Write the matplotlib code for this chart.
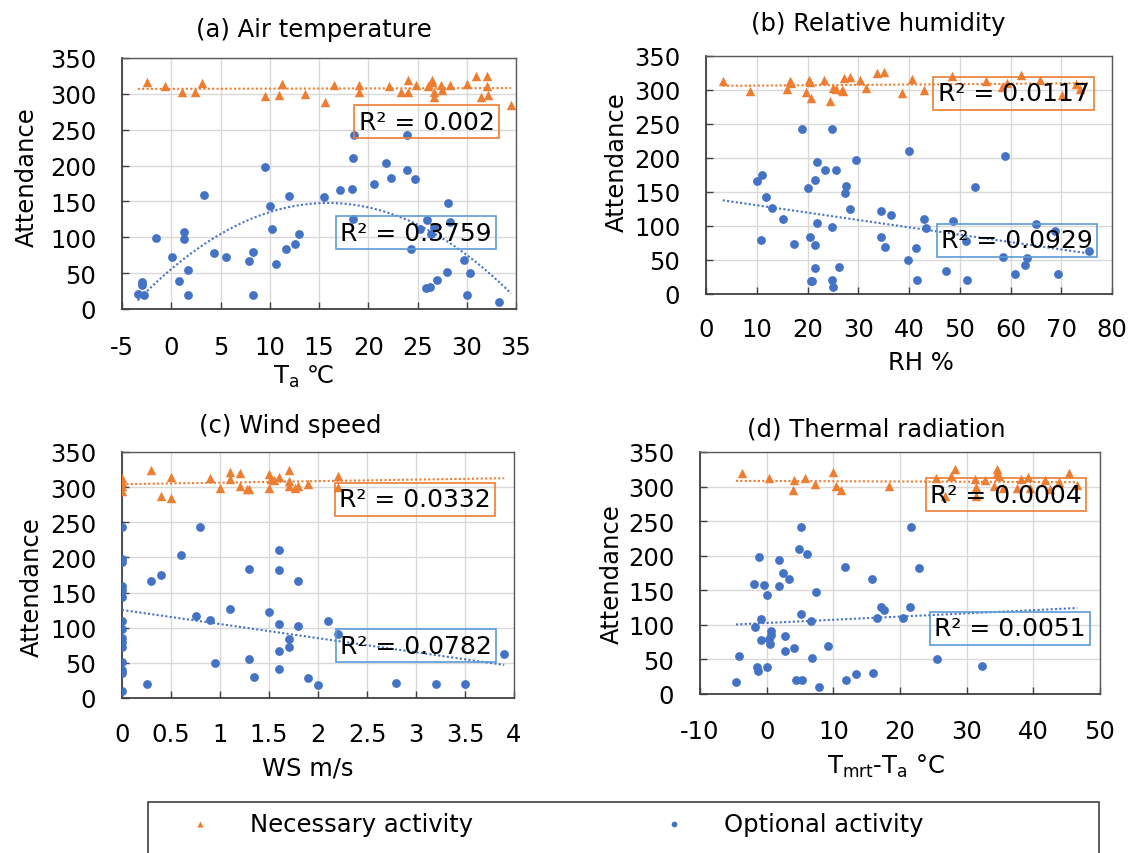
import numpy as np
import matplotlib
matplotlib.use("Agg")
import matplotlib.pyplot as plt
from matplotlib.patches import Rectangle
from matplotlib.ticker import FuncFormatter, MultipleLocator

plt.rcParams['font.family'] = ['DejaVu Sans']
plt.rcParams['font.size'] = 17.5
plt.rcParams['mathtext.default'] = 'regular'

BLUE = '#4472C4'
ORANGE = '#ED7D31'

# (a) air temperature
ta_opt_x = [-3.4, -3.0, -3.0, -2.8, -1.5, 0.1, 0.8, 1.3, 1.3, 1.7, 1.7, 3.3, 4.3, 5.6, 7.9, 8.3, 8.3,
            9.5, 10.0, 10.2, 10.6, 11.7, 12.0, 12.6, 13.0, 15.5, 17.1, 18.3, 18.5, 18.5, 18.6, 20.6,
            21.8, 22.3, 23.9, 23.9, 24.3, 24.7, 25.3, 25.9, 26.3, 26.0, 26.4, 26.7, 27.0, 28.0, 28.1,
            28.3, 29.7, 30.0, 30.3, 33.3]
ta_opt_y = [21, 38, 33, 19, 99, 72, 39, 108, 97, 55, 20, 159, 78, 73, 67, 79, 20,
            198, 143, 111, 63, 84, 157, 91, 105, 156, 166, 167, 126, 210, 243, 175,
            203, 183, 194, 243, 84, 181, 112, 29, 30, 124, 104, 115, 41, 52, 148,
            122, 69, 20, 50, 10]
ta_nec_x = [-2.5, -0.6, 1.1, 2.4, 3.1, 9.5, 10.9, 11.2, 13.6, 15.6, 16.5, 19.1, 19.1, 22.1, 23.3,
            24.0, 24.0, 24.8, 26.1, 26.5, 26.5, 26.7, 26.7, 27.4, 27.5, 28.3, 30.0, 30.9, 31.4,
            32.1, 32.1, 32.2, 34.5]
ta_nec_y = [317, 311, 303, 302, 315, 297, 299, 314, 300, 289, 312, 312, 302, 311, 302,
            302, 320, 313, 311, 320, 316, 302, 295, 313, 306, 313, 314, 325, 296,
            325, 311, 299, 285]

# (b) relative humidity
rh_opt_x = [10.0, 11.0, 10.8, 11.9, 13.0, 15.2, 17.3, 18.9, 20.1, 20.4, 20.7, 20.9, 21.4, 21.4, 21.4,
            21.9, 21.9, 23.4, 24.8, 24.9, 24.9, 25.1, 25.6, 26.2, 27.3, 27.6, 28.4, 29.6, 34.4,
            34.4, 35.3, 36.5, 40.0, 39.9, 41.3, 41.6, 42.9, 43.3, 47.2, 48.6, 51.2, 51.4, 53.1,
            58.6, 59.0, 60.8, 62.9, 63.2, 65.1, 68.7, 69.4, 75.4]
rh_opt_y = [166, 175, 79, 143, 127, 111, 73, 243, 156, 84, 19, 19, 167, 72, 38,
            194, 105, 182, 243, 99, 21, 10, 183, 39, 149, 159, 125, 197, 122,
            84, 69, 116, 210, 50, 67, 20, 110, 97, 34, 108, 78, 20, 157,
            55, 203, 30, 42, 53, 103, 92, 29, 63]
rh_nec_x = [3.3, 8.6, 16.0, 16.6, 16.8, 19.7, 20.2, 20.4, 20.7, 23.3, 24.4, 25.1, 25.6, 26.7, 26.9,
            27.1, 28.3, 30.3, 31.5, 33.7, 35.1, 38.7, 40.6, 43.0, 48.5, 55.1, 58.3, 59.3, 62.1,
            65.9, 70.2, 72.9, 73.7]
rh_nec_y = [313, 299, 302, 313, 311, 297, 315, 312, 288, 315, 284, 303, 302, 300, 298,
            317, 319, 315, 303, 325, 326, 295, 316, 300, 321, 313, 305, 311, 322,
            315, 293, 309, 301]

# (c) wind speed
ws_opt_x = [0, 0, 0, 0, 0, 0, 0, 0, 0, 0, 0, 0, 0, 0, 0,
            0.25, 0.30, 0.40, 0.60, 0.75, 0.80, 0.90, 0.95, 1.10, 1.30, 1.30, 1.35, 1.50, 1.60,
            1.60, 1.60, 1.60, 1.60, 1.70, 1.70, 1.80, 1.80, 1.90, 2.00, 2.10, 2.20, 2.80, 3.20,
            3.50, 3.90]
ws_opt_y = [243, 198, 194, 159, 153, 143, 109, 98, 85, 79, 72, 51, 40, 35, 10,
            20, 167, 175, 203, 116, 243, 111, 50, 126, 183, 55, 30, 122, 210,
            182, 105, 67, 41, 84, 72, 166, 103, 29, 18, 110, 91, 21, 20,
            20, 63]
ws_nec_x = [0, 0, 0, 0, 0.30, 0.40, 0.50, 0.50, 0.90, 1.00, 1.10, 1.10, 1.20, 1.20, 1.28, 1.30,
            1.50, 1.50, 1.52, 1.55, 1.60, 1.70, 1.70, 1.70, 1.77, 1.80, 1.90, 2.20, 2.20]
ws_nec_y = [313, 307, 301, 294, 325, 288, 314, 284, 313, 299, 321, 311, 320, 301, 297, 297,
            319, 299, 311, 310, 315, 325, 309, 301, 299, 301, 305, 316, 300]

# (d) thermal radiation
tr_opt_x = [-4.6, -4.1, -1.9, -1.8, -1.4, -1.3, -1.1, -0.9, -0.8, -0.4, 0.0, 0.1, 0.3, 0.5, 0.6,
            0.6, 1.9, 1.9, 2.5, 2.7, 2.7, 3.4, 4.1, 4.4, 4.8, 5.1, 5.3, 5.2, 6.1, 6.7, 6.8, 7.4,
            7.8, 9.2, 11.8, 11.9, 13.4, 15.8, 16.0, 16.6, 17.2, 17.6, 20.4, 21.5, 21.7, 22.9,
            25.6, 32.3]
tr_opt_y = [18, 55, 159, 97, 39, 33, 198, 108, 78, 157, 143, 39, 79, 72, 91,
            85, 194, 156, 175, 84, 62, 167, 67, 20, 210, 116, 20, 242, 203, 105, 52, 147,
            10, 69, 183, 20, 29, 166, 30, 110, 126, 122, 110, 126, 242, 182,
            50, 41]
tr_nec_x = [-3.7, 0.3, 3.9, 4.1, 5.8, 7.2, 9.9, 10.4, 11.2, 18.4, 25.4, 26.8, 27.7, 28.2, 31.2,
            31.4, 31.4, 32.8, 34.1, 34.5, 34.6, 34.9, 35.4, 37.6, 38.1, 39.2, 39.5, 41.8, 42.5,
            43.8, 45.3, 46.6]
tr_nec_y = [320, 312, 295, 309, 313, 303, 321, 301, 295, 301, 313, 286, 316, 325, 311,
            300, 286, 309, 301, 325, 319, 315, 298, 298, 311, 314, 298, 309, 297,
            306, 319, 302]

titles = ['(a) Air temperature', '(b) Relative humidity', '(c) Wind speed', '(d) Thermal radiation']
xlabels = ['T$_{a}$ ℃', 'RH %', 'WS m/s', 'T$_{mrt}$-T$_{a}$ °C']
nec_r2 = ['R² = 0.002', 'R² = 0.0117', 'R² = 0.0332', 'R² = 0.0004']
opt_r2 = ['R² = 0.3759', 'R² = 0.0929', 'R² = 0.0782', 'R² = 0.0051']
opt_degree = [2, 1, 1, 1]

panels = [
    (ta_opt_x, ta_opt_y, ta_nec_x, ta_nec_y),
    (rh_opt_x, rh_opt_y, rh_nec_x, rh_nec_y),
    (ws_opt_x, ws_opt_y, ws_nec_x, ws_nec_y),
    (tr_opt_x, tr_opt_y, tr_nec_x, tr_nec_y),
]

# layout (pixel boxes: left, top, right, bottom) and per-panel tweaks
W, H = 1134, 854
boxes = [(122, 59, 516, 310), (706, 57, 1112, 295), (122, 453, 514, 699), (700, 453, 1100, 695)]
xlims = [(-5, 35), (0, 80), (0, 4), (-10, 50)]
xsteps = [5, 10, 0.5, 10]
title_x = [0.487, 0.424, 0.429, 0.44]
title_pad = [16, 19, 14.5, 12]
xpad = [19, 16.5, 17.5, 18]
xlab_pos = [(0.46, -0.215), (0.53, -0.235), (0.474, -0.235), (0.466, -0.24)]
ylab_pos = [(-0.21, 0.53), (-0.19, 0.56), (-0.20, 0.455), (-0.19, 0.5)]
nec_box = [(25.95, 261), (60.6, 295), (2.99, 283), (35.9, 288)]
opt_box = [(24.85, 106.5), (61.3, 79), (3.0, 74), (36.5, 95)]

fig = plt.figure(figsize=(W / 100, H / 100), dpi=100)

for i, (ox, oy, nx, ny) in enumerate(panels):
    l, t, r, b = boxes[i]
    ax = fig.add_axes([l / W, 1 - b / H, (r - l) / W, (b - t) / H])
    ox, oy, nx, ny = map(np.asarray, (ox, oy, nx, ny))

    ax.scatter(nx, ny, marker='^', s=46, color=ORANGE, linewidths=0, zorder=3, label='Necessary activity')
    ax.scatter(ox, oy, marker='o', s=40, color=BLUE, linewidths=0, zorder=3, label='Optional activity')

    # trendlines across the x range of both series
    xx = np.linspace(min(ox.min(), nx.min()), max(ox.max(), nx.max()), 200)
    pn = np.polyfit(nx, ny, 1)
    po = np.polyfit(ox, oy, opt_degree[i])
    ax.plot(xx, np.polyval(pn, xx), color=ORANGE, lw=1.5, ls=(0, (1, 1.1)), zorder=4)
    ax.plot(xx, np.polyval(po, xx), color=BLUE, lw=1.5, ls=(0, (1, 1.1)), zorder=4)

    ax.text(*nec_box[i], nec_r2[i], ha='center', va='center', fontsize=18, zorder=5,
            bbox=dict(boxstyle='square,pad=0.18', facecolor='none', edgecolor=ORANGE, lw=1.2))
    ax.text(*opt_box[i], opt_r2[i], ha='center', va='center', fontsize=18, zorder=5,
            bbox=dict(boxstyle='square,pad=0.18', facecolor='none', edgecolor='#5B9BD5', lw=1.2))

    ax.set_xlim(*xlims[i])
    ax.set_ylim(0, 350)
    ax.xaxis.set_major_locator(MultipleLocator(xsteps[i]))
    ax.yaxis.set_major_locator(MultipleLocator(50))
    ax.xaxis.set_major_formatter(FuncFormatter(lambda v, p: f'{v:g}'))
    ax.grid(True, color='#d9d9d9', lw=1, zorder=0)
    ax.set_axisbelow(True)
    ax.tick_params(axis='x', direction='in', length=5, width=1, pad=xpad[i], colors='#404040',
                   labelcolor='black')
    ax.tick_params(axis='y', direction='in', length=5, width=1, pad=18.5, colors='#404040',
                   labelcolor='black')
    for side in ['left', 'bottom']:
        ax.spines[side].set_color('#404040')
        ax.spines[side].set_linewidth(1.3)
    for side in ['top', 'right']:
        ax.spines[side].set_color('#595959')
        ax.spines[side].set_linewidth(1.0)

    ax.set_title(titles[i], x=title_x[i], pad=title_pad[i], fontsize=17.5)
    ax.set_xlabel(xlabels[i], fontsize=17.5)
    ax.set_ylabel('Attendance', fontsize=17.5)
    ax.xaxis.set_label_coords(*xlab_pos[i])
    ax.yaxis.set_label_coords(*ylab_pos[i])
    if i == 0:
        handles, labels = ax.get_legend_handles_labels()

# legend at the bottom with a plain frame running past the lower edge
fig.add_artist(Rectangle((148 / W, -0.05), 951 / W, (H - 803) / H + 0.05,
                         transform=fig.transFigure, fill=False, edgecolor='#404040', lw=1.2))
fig.legend(handles, labels, loc='upper left', bbox_to_anchor=(148 / W, 1 - 803 / H),
           ncol=2, frameon=False, borderaxespad=0, handlelength=3.5, handletextpad=0.3,
           columnspacing=6.5, markerscale=0.65, fontsize=17.5, scatterpoints=1)

fig.savefig('out.png', dpi=100)
